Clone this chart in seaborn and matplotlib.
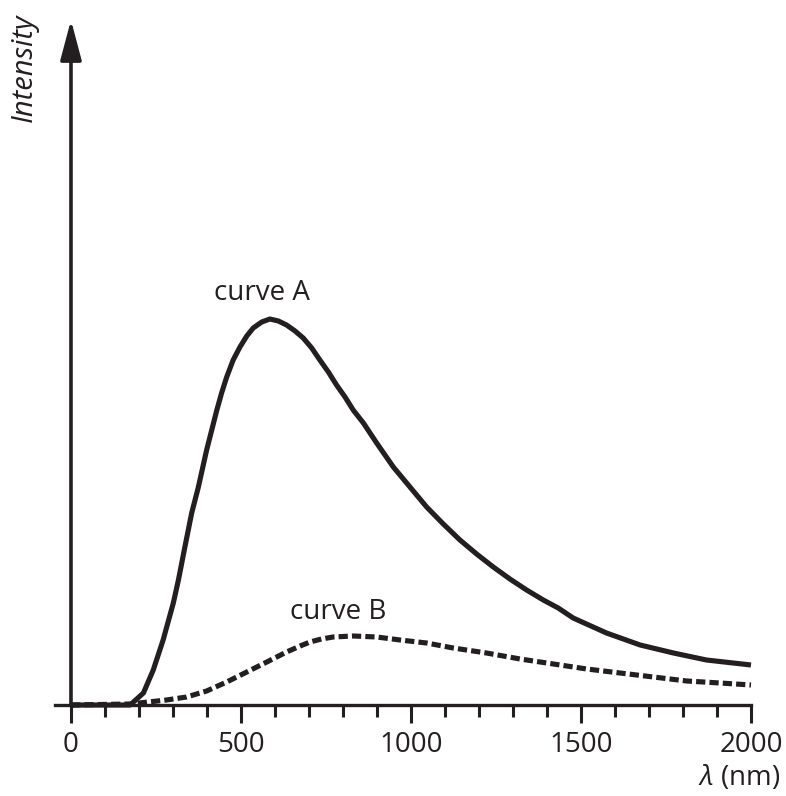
import matplotlib
matplotlib.use("Agg")
import matplotlib.pyplot as plt
import seaborn as sns
import pandas as pd

# --- values (intensity in arbitrary units) ---
wavelength_a = [0, 174, 213, 242, 271, 301, 316, 335, 355, 374, 399, 414, 429,
                443, 458, 477, 497, 517, 536, 561, 585, 610, 634, 659, 683,
                708, 732, 757, 781, 806, 830, 860, 899, 948, 997, 1046, 1095,
                1144, 1193, 1242, 1291, 1340, 1389, 1433, 1477, 1575, 1674,
                1772, 1869, 2000]
intensity_a = [0, 0, 12, 35, 65, 102, 125, 158, 192, 217, 255, 275, 295,
               312, 328, 345, 358, 369, 377, 383, 386, 384, 380, 374, 367,
               357, 345, 333, 320, 308, 295, 282, 262, 238, 218, 198, 181,
               165, 151, 138, 126, 115, 105, 97, 87, 72, 60,
               52, 45, 40]

wavelength_b = [0, 174, 281, 340, 399, 458, 517, 576, 634, 674, 703, 737, 771,
                830, 899, 968, 1046, 1124, 1222, 1321, 1419, 1517, 1615, 1713,
                1811, 1909, 2000]
intensity_b = [0, 1, 5, 8, 14, 23, 33, 43, 53, 59, 63, 66, 68,
               69, 68, 65, 62, 57, 52, 46, 41, 36, 32, 28,
               24, 22, 20]

major_ticks = [0, 500, 1000, 1500, 2000]
minor_ticks = list(range(0, 2001, 100))

ink = "#231f20"

sns.set_style("white")
plt.rcParams["font.family"] = ["Open Sans", "DejaVu Sans"]
plt.rcParams["mathtext.fontset"] = "custom"
plt.rcParams["mathtext.it"] = "Open Sans:italic"
plt.rcParams["mathtext.rm"] = "Open Sans"

df_a = pd.DataFrame({"wavelength": wavelength_a, "intensity": intensity_a})
df_b = pd.DataFrame({"wavelength": wavelength_b, "intensity": intensity_b})

fig = plt.figure(figsize=(7.86, 7.96), dpi=100)
ax = fig.add_axes([55 / 786, 91 / 796, 696 / 786, 685 / 796])

sns.lineplot(data=df_a, x="wavelength", y="intensity", ax=ax, color=ink,
             lw=3.7, estimator=None, clip_on=False, solid_capstyle="butt",
             solid_joinstyle="round")
sns.lineplot(data=df_b, x="wavelength", y="intensity", ax=ax, color=ink,
             lw=3.7, estimator=None, clip_on=False,
             linestyle=(0, (1.8, 0.8)), dash_capstyle="butt")

ax.set_xlim(-47, 2000)
ax.set_ylim(0, 685)

for side in ["top", "right", "left"]:
    ax.spines[side].set_visible(False)
ax.spines["bottom"].set_linewidth(2.4)
ax.spines["bottom"].set_color(ink)

ax.set_xticks(major_ticks)
ax.set_xticks(minor_ticks, minor=True)
ax.set_xticklabels([str(t) for t in major_ticks])
ax.set_yticks([])
ax.tick_params(axis="x", which="both", bottom=True)
ax.tick_params(axis="x", which="major", length=13, width=2.2, color=ink,
               direction="out", pad=6, labelsize=20, labelcolor=ink)
ax.tick_params(axis="x", which="minor", length=8.6, width=2.2, color=ink,
               direction="out")
ax.set_xlabel("")
ax.set_ylabel("")

# y axis drawn as an arrow
ax.annotate("", xy=(0, 685), xytext=(0, 0), xycoords="data",
            arrowprops=dict(arrowstyle="-|>,head_length=2.45,head_width=0.65",
                            color=ink, lw=2.6, mutation_scale=10,
                            shrinkA=0, shrinkB=0),
            annotation_clip=False)

ax.text(-0.044, 0.93, "Intensity", transform=ax.transAxes, rotation=90,
        ha="center", va="center", fontsize=21, style="italic", color=ink)
ax.text(1.0417, -0.117, r"$\lambda$ (nm)", transform=ax.transAxes,
        ha="right", va="baseline", fontsize=20, color=ink)

ax.text(561, 412, "curve A", ha="center", va="center", fontsize=20, color=ink)
ax.text(787, 93, "curve B", ha="center", va="center", fontsize=20, color=ink)

fig.savefig("out.png", dpi=100)
